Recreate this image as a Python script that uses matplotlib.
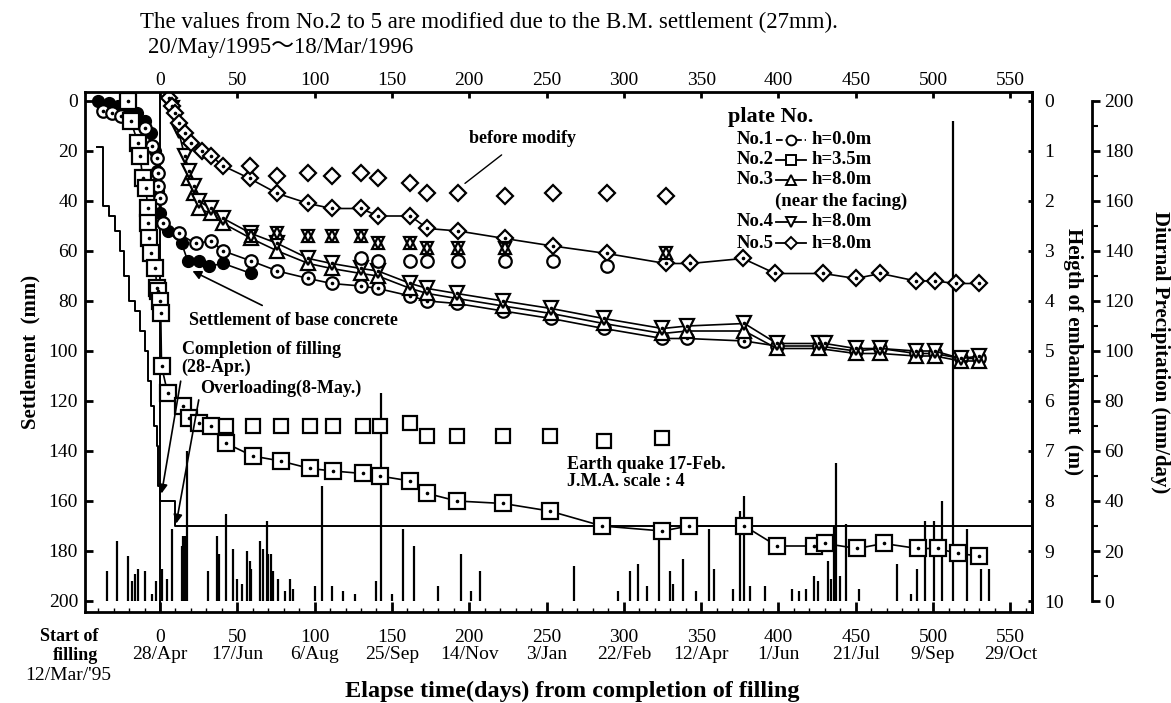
import matplotlib
matplotlib.use('Agg')
import matplotlib.pyplot as plt
from matplotlib.ticker import MultipleLocator

plt.rcParams['font.family'] = ['Liberation Serif', 'DejaVu Serif']

# plate No.1 (h=0.0m), open circles
days1 = [-37, -31, -25, -17, -10, -5, -2, -1.5, -1, 0, 2, 12, 23, 33, 41, 59, 76, 96, 111, 130,
         141, 162, 173, 192, 222, 253, 287, 325, 341, 378, 399, 426, 450, 466, 489, 501, 518, 530]
vals1 = [4, 5, 6, 8, 11, 18, 23, 29, 34, 39, 49, 53, 57, 56, 60, 64, 68, 71, 73, 74,
         75, 78, 80, 81, 84, 87, 91, 95, 95, 96, 98, 98, 100, 99, 101, 101, 103, 103]

# settlement of base concrete, filled circles
days_base = [-40, -33, -27, -21, -15, -10, -6, -3, -2, -1, 0, 5, 14, 18, 25, 32, 41, 59]
vals_base = [0, 1, 2, 3, 5, 8, 13, 20, 28, 36, 45, 52, 57, 64, 64, 66, 65, 69]

# plate No.2 (h=3.5m), squares
days2 = [-21, -19, -14, -13, -11, -9, -8, -7.5, -7, -6, -3, -2, -1, 0, 0.5, 1, 5, 15, 19, 25,
         33, 43, 60, 78, 97, 112, 131, 142, 162, 173, 192, 222, 252, 286, 325, 342, 378, 399,
         423, 430, 451, 468, 490, 503, 516, 530]
vals2 = [0, 8, 17, 22, 31, 35, 43, 49, 55, 61, 67, 75, 76, 80, 85, 106, 117, 122, 127, 129,
         130, 137, 142, 144, 147, 148, 149, 150, 152, 157, 160, 161, 164, 170, 172, 170, 170, 178,
         178, 177, 179, 177, 179, 179, 181, 182]
days2_before = [43, 60, 78, 97, 112, 131, 142, 162, 173, 192, 222, 252, 287, 325]
vals2_before = [130, 130, 130, 130, 130, 130, 130, 129, 134, 134, 134, 134, 136, 135]

# plate No.3 (h=8.0m, near the facing), up triangles
days3 = [19, 22, 25, 33, 41, 59, 76, 96, 111, 130, 141, 162, 173, 192, 222, 253, 287, 325, 341,
         378, 399, 426, 450, 466, 489, 501, 518, 530]
vals3 = [31, 37, 43, 45, 49, 55, 60, 65, 67, 69, 70, 75, 77, 79, 82, 85, 89, 93, 92,
         92, 99, 99, 101, 101, 102, 102, 104, 104]

# plate No.4 (h=8.0m), down triangles
days4 = [8, 12, 16, 19, 22, 25, 33, 41, 59, 76, 96, 111, 130, 141, 162, 173, 192, 222, 253, 287,
         325, 341, 378, 399, 426, 430, 450, 466, 489, 501, 518, 530]
vals4 = [3, 12, 22, 28, 34, 40, 43, 47, 53, 57, 63, 65, 67, 68, 73, 75, 77, 80, 83, 87,
         91, 90, 89, 97, 97, 97, 99, 99, 100, 100, 103, 102]
days34_before = [59, 76, 96, 111, 130, 141, 162, 173, 193, 223, 327]
vals34_before = [54, 53, 54, 54, 54, 57, 57, 59, 59, 59, 61]
days1_before = [130, 141, 162, 173, 193, 223, 254, 289]
vals1_before = [63, 64, 64, 64, 64, 64, 64, 66]

# plate No.5 (h=8.0m), diamonds
days5 = [6, 8, 10, 12, 16, 20, 27, 33, 41, 58, 76, 96, 111, 130, 141, 162, 173, 193, 223, 254,
         289, 327, 343, 377, 398, 429, 450, 466, 489, 501, 515, 530]
vals5 = [-1, 2, 5, 9, 13, 17, 20, 22, 26, 31, 37, 41, 43, 43, 46, 46, 51, 52, 55, 58,
         61, 65, 65, 63, 69, 69, 71, 69, 72, 72, 73, 73]
days5_before = [58, 76, 96, 111, 130, 141, 162, 173, 193, 223, 254, 289, 327]
vals5_before = [26, 30, 29, 30, 29, 31, 33, 37, 37, 38, 37, 37, 38]

# height of embankment (m)
emb_days = [-41, -37, -33, -29, -26, -23, -20, -16, -13, -10, -8, -6, -4, -2, -1, 0, 10, 570]
emb_h = [0.93, 2.1, 2.3, 2.6, 3.0, 3.5, 4.0, 4.2, 4.6, 5.0, 5.6, 6.1, 6.5, 6.9, 7.7, 8.0, 8.5, 8.5]

# diurnal precipitation (mm/day)
rain_days = [-34.5, -28, -20.5, -18, -16, -14, -9.7, -5.4, -2.6, 1, 4.7, 7.5, 14, 15, 16, 17.7,
             31, 36.6, 38, 42.5, 47.4, 49.6, 52.8, 56, 58, 59, 64.6, 66.8, 69, 70, 72, 73, 76.5,
             80.8, 84, 86, 100, 105, 111, 118.5, 126, 140, 143, 150, 157, 164, 180, 195, 201, 207,
             267.5, 296, 304, 309, 315, 323, 330, 332, 338, 346.5, 355, 358.6, 370.6, 375, 378,
             381.6, 391, 409, 413, 418, 423, 425.4, 432, 434, 436, 437.5, 439.7, 444, 452, 477,
             485.7, 489.7, 494.5, 500.7, 505.5, 513, 522, 530.7, 536]
rain_vals = [12, 24, 18, 8, 11, 13, 12, 3, 8, 13, 9, 29, 22, 26, 26, 60,
             12, 26, 19, 35, 21, 9, 7, 20, 16, 13, 24, 21, 32, 19, 19, 12, 9,
             4, 9, 5, 6, 46, 6, 4, 3, 8, 83, 3, 29, 22, 6, 19, 4, 12,
             14, 4, 12, 15, 6, 28, 12, 7, 17, 4, 29, 13, 5, 36, 42,
             6, 6, 5, 4, 5, 10, 8, 16, 9, 30, 55, 10, 31, 5, 15,
             3, 13, 32, 32, 40, 192, 29, 13, 13]

day_ticks = [0, 50, 100, 150, 200, 250, 300, 350, 400, 450, 500, 550]
date_labels = ['28/Apr', '17/Jun', '6/Aug', '25/Sep', '14/Nov', '3/Jan', '22/Feb',
               '12/Apr', '1/Jun', '21/Jul', '9/Sep', '29/Oct']

W, H = 1171, 703
L, R, T, B = 85, 1032, 92, 612
fig = plt.figure(figsize=(W / 100, H / 100), dpi=100)
ax = fig.add_axes([L / W, 1 - B / H, (R - L) / W, (B - T) / H])
ax.set_xlim(-48.5, 564)
ax.set_ylim(204.4, -3.6)

lw = 1.2
# precipitation on its own axis
ax3 = ax.twinx()
ax3.set_ylim(200 - 204.4, 200 + 3.6)
ax3.vlines(rain_days, 0, rain_vals, color='black', lw=1.6)
ax3.spines['right'].set_position(('axes', (1092 - L) / (R - L)))
ax3.spines['right'].set_bounds(0, 200)
ax3.spines['right'].set_linewidth(2)
for s in ['top', 'bottom', 'left']:
    ax3.spines[s].set_visible(False)
ax3.set_yticks(range(0, 201, 20))
ax3.yaxis.set_minor_locator(MultipleLocator(10))
ax3.tick_params(axis='y', direction='out', length=6, width=2, labelsize=14, pad=3)
ax3.tick_params(axis='y', which='minor', direction='out', length=4, width=1.5)
ax3.yaxis.set_label_coords((1160 - L) / (R - L), (B - 314) / (B - T))
ax3.set_ylabel('Diurnal Precipitation (mm/day)', rotation=270, fontsize=15,
               fontweight='bold', va='center')

# embankment height
ax2 = ax.twinx()
ax2.set_ylim(204.4 / 20, -3.6 / 20)
ax2.step(emb_days, emb_h, where='post', color='black', lw=1.4)
ax2.set_yticks(range(0, 11))
ax2.tick_params(axis='y', direction='in', length=3, width=2, labelsize=14, pad=9)
for s in ['top', 'bottom', 'left']:
    ax2.spines[s].set_visible(False)
ax2.spines['right'].set_linewidth(2)
ax2.yaxis.set_label_coords((1073 - L) / (R - L), (B - 311) / (B - T))
ax2.set_ylabel('Heigth of embankment  (m)', rotation=270, fontsize=15,
               fontweight='bold', va='center')

ax.set_zorder(3)
ax.patch.set_visible(False)

ax.axvline(0, color='black', lw=1.4)

mk = dict(color='black', lw=lw, markerfacecolor='white', markeredgecolor='black',
          markeredgewidth=1.6)
dot = dict(ls='none', marker='o', ms=1.6, color='black')

ax.plot(days_base, vals_base, marker='o', ms=8.5, color='black', lw=lw)
ax.plot(days1, vals1, marker='o', ms=9, **mk)
ax.plot(days1, vals1, **dot)
ax.plot(days3, vals3, marker='^', ms=10, **mk)
ax.plot(days4, vals4, marker='v', ms=10, **mk)
ax.plot(days4, vals4, **dot)
ax.plot(days5, vals5, marker='D', ms=8, **mk)
ax.plot(days5, vals5, **dot)
ax.plot(days2, vals2, marker='s', ms=11, **mk)
ax.plot(days2, vals2, **dot)

nomk = dict(ls='none', markerfacecolor='white', markeredgecolor='black', markeredgewidth=1.6)
ax.plot(days2_before, vals2_before, marker='s', ms=10, **nomk)
ax.plot(days5_before, vals5_before, marker='D', ms=8, **nomk)
ax.plot(days1_before, vals1_before, marker='o', ms=9, **nomk)
ax.plot(days34_before, vals34_before, marker='^', ms=9, **nomk)
ax.plot(days34_before, vals34_before, marker='v', ms=9, markerfacecolor='none',
        markeredgecolor='black', markeredgewidth=1.6, ls='none')

ax.set_xticks(day_ticks)
ax.set_xticklabels([f'{d}\n{s}' for d, s in zip(day_ticks, date_labels)], fontsize=14,
                   linespacing=1.0)
ax.xaxis.set_minor_locator(MultipleLocator(10))
ax.tick_params(axis='x', direction='in', length=7, width=2, pad=12)
ax.tick_params(axis='x', which='minor', direction='in', length=3, width=1)
ax.set_yticks(range(0, 201, 20))
ax.tick_params(axis='y', direction='in', length=6, width=2, labelsize=14, pad=5)
ax.tick_params(axis='y', right=False)
for s in ax.spines.values():
    s.set_linewidth(2)
ax.yaxis.set_label_coords((30 - L) / (R - L), (B - 330) / (B - T))
ax.set_ylabel('Settlement  (mm)', fontsize=15, fontweight='bold', va='center')

top = ax.secondary_xaxis('top')
top.set_xticks(day_ticks)
top.tick_params(direction='in', length=4, width=2, labelsize=14, pad=2)

bold = dict(fontsize=13, fontweight='bold')
ax.annotate('before modify', xy=(193, 35), xytext=(200, 15), va='center', ha='left',
            arrowprops=dict(arrowstyle='-', lw=1.0, color='black', shrinkA=6, shrinkB=6), **bold)
ax.annotate('Settlement of base concrete', xy=(21, 68), xytext=(19, 88), va='center',
            ha='left', arrowprops=dict(arrowstyle='-|>', lw=1.2, color='black',
                                       shrinkA=7, shrinkB=0), **bold)
ax.annotate('Completion of filling\n(28-Apr.)', xy=(1, 157), xytext=(14, 103), va='center',
            ha='left', linespacing=1.0,
            arrowprops=dict(arrowstyle='-|>', lw=1.2, color='black', shrinkA=2, shrinkB=0,
                            relpos=(0, 0)), **bold)
ax.annotate('Overloading(8-May.)', xy=(10.5, 169), xytext=(26, 115), va='center', ha='left',
            arrowprops=dict(arrowstyle='-|>', lw=1.2, color='black', shrinkA=0, shrinkB=0,
                            relpos=(0, 0.3)), **bold)
ax.text(263, 149, 'Earth quake 17-Feb.\nJ.M.A. scale : 4', va='center', ha='left',
        linespacing=1.0, **bold)

# legend drawn by hand
def ax_xy(px, py):
    return (px - L) / (R - L), (B - py) / (B - T)

lx, ly = ax_xy(728, 117)
ax.text(lx, ly, 'plate No.', transform=ax.transAxes, fontsize=16, fontweight='bold',
        va='center')
rows = [('No.1', 'o', '--', 'h=0.0m', 140), ('No.2', 's', '-', 'h=3.5m', 160),
        ('No.3', '^', '-', 'h=8.0m', 180), ('No.4', 'v', '-', 'h=8.0m', 222),
        ('No.5', 'D', '-', 'h=8.0m', 243)]
for name, m, ls, h, py in rows:
    x0, y0 = ax_xy(737, py)
    xa, _ = ax_xy(776, py)
    xb, _ = ax_xy(806, py)
    xh, _ = ax_xy(812, py)
    ax.text(x0, y0, name, transform=ax.transAxes, fontsize=13.5, fontweight='bold',
            va='center')
    ax.plot([xa, xb], [y0, y0], transform=ax.transAxes, color='black', lw=1.3, ls=ls,
            clip_on=False)
    ax.plot([(xa + xb) / 2], [y0], transform=ax.transAxes, marker=m, ms=7 if m != 'D' else 6,
            markerfacecolor='white', markeredgecolor='black', markeredgewidth=1.4,
            clip_on=False)
    ax.text(xh, y0, h, transform=ax.transAxes, fontsize=13.5, fontweight='bold', va='center')
nx, ny = ax_xy(775, 201)
ax.text(nx, ny, '(near the facing)', transform=ax.transAxes, fontsize=13.5,
        fontweight='bold', va='center')

fig.text(140 / W, 1 - 22 / H, 'The values from No.2 to 5 are modified due to the '
         'B.M. settlement (27mm).', fontsize=16.5, va='center')
fig.text(148 / W, 1 - 47 / H, '20/May/1995～18/Mar/1996', fontsize=16.5, va='center',
         family=['Liberation Serif', 'Noto Sans CJK JP'])
fig.text(98 / W, 1 - 646 / H, 'Start of\nfilling', fontsize=13, fontweight='bold',
         ha='right', va='center', linespacing=1.1)
fig.text(68 / W, 1 - 676 / H, "12/Mar/'95", fontsize=14, ha='center', va='center')
fig.text(572 / W, 1 - 691 / H, 'Elapse time(days) from completion of filling',
         fontsize=17.5, fontweight='bold', ha='center', va='center')

fig.savefig('out.png', dpi=100)
